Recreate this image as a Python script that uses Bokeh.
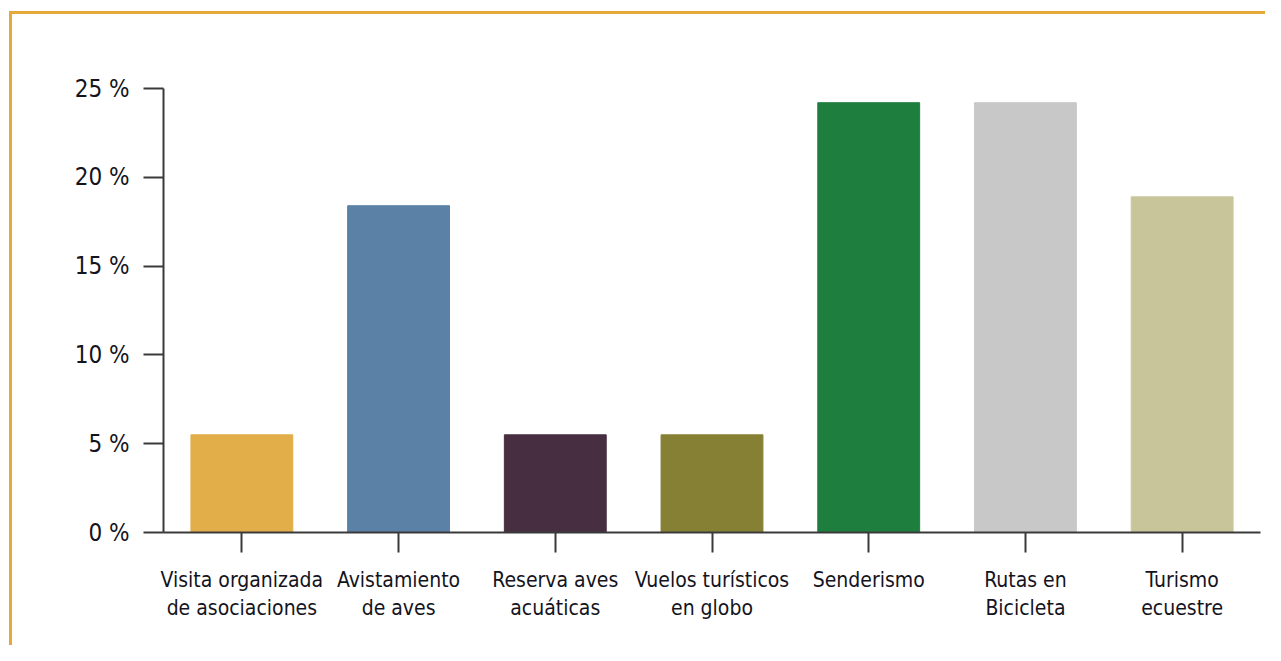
from bokeh.plotting import figure
from bokeh.models import Range1d, FixedTicker, PrintfTickFormatter
from bokeh.embed import file_html
from bokeh.resources import INLINE

categories = ["Visita organizada\nde asociaciones", "Avistamiento\nde aves",
              "Reserva aves\nacuáticas", "Vuelos turísticos\nen globo",
              "Senderismo", "Rutas en\nBicicleta", "Turismo\necuestre"]
values = [5.5, 18.4, 5.5, 5.5, 24.2, 24.2, 18.9]
colors = ["#E2AE4A", "#5B82A6", "#472E40", "#868034", "#1E7E3E", "#C8C8C8", "#C9C59A"]
y_ticks = [0, 5, 10, 15, 20, 25]

FONT = "DejaVu Sans Condensed"
BORDER = "#E6A83A"

p = figure(x_range=categories, y_range=Range1d(0, 25), width=1265, height=645,
           output_backend="svg", toolbar_location=None,
           min_border_left=163, min_border_right=5, min_border_top=88, min_border_bottom=113)

p.vbar(x=categories, top=values, width=0.65, color=colors)

p.xgrid.visible = False
p.ygrid.visible = False
p.outline_line_color = None
p.x_range.range_padding = 0
p.border_fill_color = None
p.background_fill_color = None

for ax in (p.xaxis[0], p.yaxis[0]):
    ax.axis_line_color = "#3a3a3a"
    ax.axis_line_width = 2
    ax.major_tick_line_color = "#3a3a3a"
    ax.major_tick_line_width = 2
    ax.major_tick_out = 20
    ax.major_tick_in = 0
    ax.minor_tick_line_color = None
    ax.major_label_text_font = FONT
    ax.major_label_text_color = "#141420"

p.xaxis[0].major_label_text_font_size = "21px"
p.yaxis[0].major_label_text_font_size = "24px"
p.yaxis[0].ticker = FixedTicker(ticks=y_ticks)
p.yaxis[0].formatter = PrintfTickFormatter(format="%d %%")
p.yaxis[0].major_label_standoff = 14
p.xaxis[0].major_label_standoff = 15

# outer orange frame (top and left edges) drawn as the element's background
grad = f"linear-gradient({BORDER}, {BORDER})"
p.styles = {
    "background-color": "white",
    "background-image": f"{grad}, {grad}",
    "background-size": "100% 3px, 3px 100%",
    "background-position": "9px 11px, 9px 11px",
    "background-repeat": "no-repeat",
}

open("out.html", "w").write(file_html(p, INLINE))
